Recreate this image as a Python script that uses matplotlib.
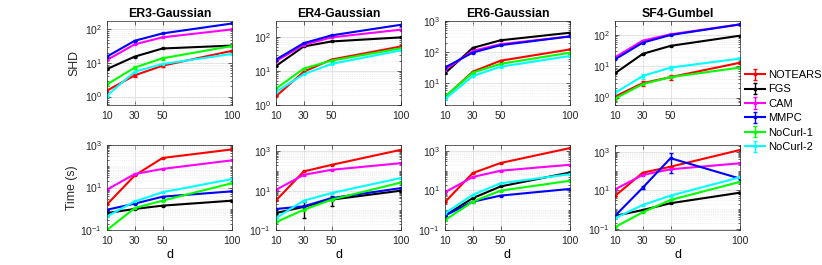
import matplotlib.pyplot as plt
import numpy as np
from matplotlib.ticker import (FixedLocator, LogLocator, LogFormatterSciNotation,
                               NullFormatter)

plt.rcParams['font.family'] = ['Liberation Sans', 'DejaVu Sans']
plt.rcParams['mathtext.fontset'] = 'custom'
plt.rcParams['mathtext.rm'] = 'Liberation Sans'
plt.rcParams['mathtext.it'] = 'Liberation Sans:italic'

# Number of nodes
d = [10, 30, 50, 100]
methods = ['NOTEARS', 'FGS', 'CAM', 'MMPC', 'NoCurl-1', 'NoCurl-2']
colors = ['#ff0000', '#000000', '#ff00ff', '#0000ff', '#00ff00', '#00ffff']
titles = ['ER3-Gaussian', 'ER4-Gaussian', 'ER6-Gaussian', 'SF4-Gumbel']

# SHD values, one row per method (same order as methods)
shd_er3 = [[1.5, 4.3, 8.3, 23], [6.6, 15.5, 27, 33], [12.3, 36, 58, 100],
           [15.5, 46, 76, 150], [2.3, 7.3, 13.8, 32], [1.07, 5.5, 9.3, 18.6]]
shd_er4 = [[1.8, 9.5, 21.5, 52], [13.9, 52, 73, 96], [19.3, 58, 96, 162],
           [21.5, 65, 110, 225], [3.0, 11.7, 20, 46], [2.4, 8, 16, 40]]
shd_er6 = [[3.6, 23.6, 53, 122], [21, 137, 240, 420], [27, 110, 180, 320],
           [32, 97, 167, 320], [3.7, 22, 42, 96], [3.1, 17, 34, 75]]
shd_sf4 = [[1.08, 2.9, 4.5, 13], [6, 25, 45, 95], [19.4, 66, 105, 218],
           [16.7, 57, 100, 218], [0.93, 2.7, 4.5, 9.1], [1.4, 4.9, 9.1, 17.6]]

# run time in seconds
time_er3 = [[1.6, 37, 245, 620], [0.63, 0.98, 1.4, 2.4], [8.0, 43, 75, 190],
            [0.9, 1.74, 3.7, 6.6], [0.1, 1.08, 2.4, 16], [0.44, 2.2, 6.0, 25]]
time_er4 = [[3.2, 95, 205, 1200], [0.73, 1.5, 3.5, 10], [11, 64, 115, 250],
            [1.17, 1.6, 4.2, 13.5], [0.25, 1.07, 3.5, 26], [0.41, 3.1, 7.6, 44]]
time_er6 = [[2.6, 76, 245, 1400], [0.54, 4.1, 16, 81], [8.1, 48, 100, 200],
            [0.54, 2.7, 5.5, 12], [0.32, 2.7, 9.8, 31], [0.7, 6, 23, 67]]
time_sf4 = [[5, 81, 166, 1230], [0.46, 0.93, 2.1, 7.4], [11, 62, 122, 250],
            [0.46, 13.5, 460, 40], [0.12, 0.71, 3.1, 27], [0.35, 1.7, 5.2, 47]]

# the error bars that are big enough to see
shd_er3_nocurl1_err = [0.3, 0.8, 1.2, 2.0]
shd_er3_notears_err = [0.2, 0.5, 0.8, 1.5]
shd_sf4_nocurl2_err = [0.3, 0.9, 1.3, 2.0]
shd_sf4_notears_err = [0.15, 0.5, 0.9, 1.5]
time_er4_fgs_err = [0.1, 1.1, 1.8, 1.5]
time_sf4_mmpc_err = [0.05, 2.5, 380, 10]

errors = {
    (0, 0, 4): shd_er3_nocurl1_err,
    (0, 0, 0): shd_er3_notears_err,
    (0, 3, 5): shd_sf4_nocurl2_err,
    (0, 3, 0): shd_sf4_notears_err,
    (1, 1, 1): time_er4_fgs_err,
    (1, 3, 3): time_sf4_mmpc_err,
}

shd_data = [shd_er3, shd_er4, shd_er6, shd_sf4]
time_data = [time_er3, time_er4, time_er6, time_sf4]
shd_ylims = [(0.56, 178), (1, 290), (2, 1000), (0.58, 280)]
time_ylims = [(0.1, 1000), (0.1, 2100), (0.1, 2000), (0.085, 2230)]

W, H = 822, 265
fig = plt.figure(figsize=(W / 100, H / 100), dpi=100)

lefts = [107, 276, 445, 615]
ax_w = 125
rows = [(21, 105), (145, 230)]

axes = []
for r, (top, bot) in enumerate(rows):
    row_axes = []
    for c, lx in enumerate(lefts):
        ax = fig.add_axes([lx / W, 1 - bot / H, ax_w / W, (bot - top) / H])
        row_axes.append(ax)
    axes.append(row_axes)

handles = []
for r in range(2):
    data = shd_data if r == 0 else time_data
    ylims = shd_ylims if r == 0 else time_ylims
    for c in range(4):
        ax = axes[r][c]
        ax.set_yscale('log')
        for m in range(len(methods)):
            err = errors.get((r, c, m), [0, 0, 0, 0])
            h = ax.errorbar(d, data[c][m], yerr=err, color=colors[m], lw=1.5,
                            marker='s', ms=2, capsize=1.5, elinewidth=1,
                            capthick=1, label=methods[m])
            if r == 0 and c == 0:
                handles.append(h)
        ax.set_xlim(10, 100)
        ax.set_ylim(*ylims[c])
        ax.set_xticks(d)
        if r == 0 and c == 3:
            ax.set_xticklabels(['10', '30', '50', ''])
        else:
            ax.set_xticklabels(['10', '30', '50', '100'])
        if r == 0:
            ax.yaxis.set_major_locator(LogLocator(base=10, numticks=10))
            ax.set_title(titles[c], fontsize=8.8, fontweight='bold', pad=3)
        else:
            ax.yaxis.set_major_locator(FixedLocator([0.1, 10, 1000]))
            ax.set_xlabel('d', fontsize=9, labelpad=2.5)
        ax.yaxis.set_major_formatter(LogFormatterSciNotation())
        ax.yaxis.set_minor_locator(LogLocator(base=10, subs='all', numticks=20))
        ax.yaxis.set_minor_formatter(NullFormatter())

        ax.grid(True, which='major', color='#d9d9d9', lw=0.5)
        ax.grid(True, which='minor', axis='y', color='#e6e6e6', lw=0.5, ls=':')
        ax.set_axisbelow(True)
        ax.tick_params(which='both', direction='in', top=True, right=True,
                       labelsize=7.5, colors='#262626', width=0.5)
        ax.tick_params(axis='x', pad=4)
        ax.tick_params(axis='y', pad=3.5)
        ax.tick_params(which='major', length=3)
        ax.tick_params(which='minor', length=1.5)
        for s in ax.spines.values():
            s.set_color('#262626')
            s.set_linewidth(0.5)

axes[0][0].set_ylabel('SHD', fontsize=8.8, color='#262626')
axes[0][0].yaxis.set_label_coords(-0.216, 0.5)
axes[1][0].set_ylabel('Time (s)', fontsize=8.8, color='#262626')
axes[1][0].yaxis.set_label_coords(-0.232, 0.5)

fig.legend(handles=handles, labels=methods, loc='upper left',
           bbox_to_anchor=(745 / W, 1 - 70 / H), frameon=False, fontsize=8,
           handlelength=1.8, handletextpad=0.3, labelspacing=0.4,
           borderpad=0, borderaxespad=0)

fig.savefig('out.png', dpi=100)
